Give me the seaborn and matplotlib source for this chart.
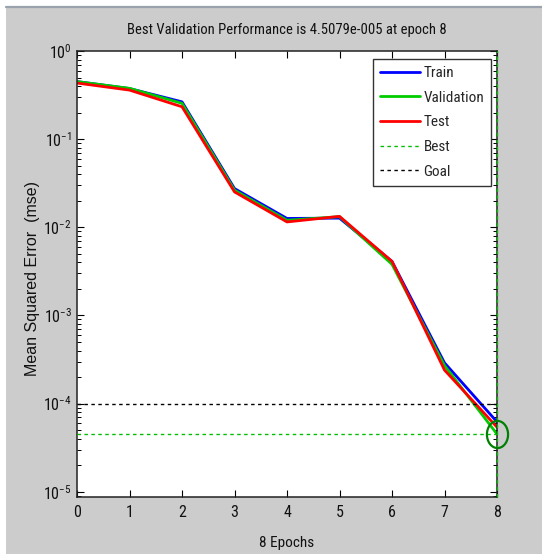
import numpy as np
import pandas as pd
import matplotlib
matplotlib.use("Agg")
import matplotlib.pyplot as plt
import seaborn as sns
from matplotlib.patches import Rectangle
from matplotlib.lines import Line2D
from matplotlib.path import Path
from matplotlib.ticker import LogLocator, NullFormatter, FixedLocator
from matplotlib import font_manager

# Training record (mean squared error per epoch)
epochs = [0, 1, 2, 3, 4, 5, 6, 7, 8]
train_mse = [0.45, 0.375, 0.265, 0.0275, 0.0126, 0.0127, 0.0041, 2.9e-4, 6.2e-5]
val_mse = [0.45, 0.377, 0.255, 0.0264, 0.0120, 0.0132, 0.0038, 2.7e-4, 4.5079e-5]
test_mse = [0.433, 0.36, 0.233, 0.0252, 0.0115, 0.0133, 0.0041, 2.4e-4, 5.4e-5]
series_names = ["Train", "Validation", "Test"]
best_epoch = 8
best_perf = 4.5079e-5
goal = 1e-4
x_ticks = [0, 1, 2, 3, 4, 5, 6, 7, 8]

sns.set_theme(style="ticks")

# pick a condensed face when one is available
installed = {f.name for f in font_manager.fontManager.ttflist}
condensed = [n for n in ["Liberation Sans Narrow", "DejaVu Sans Condensed",
                         "Roboto Condensed", "Open Sans Condensed"] if n in installed]
narrow = condensed + ["Roboto", "Liberation Sans", "DejaVu Sans"]
plt.rcParams["font.family"] = narrow
plt.rcParams["font.stretch"] = "condensed"
plt.rcParams["mathtext.fontset"] = "custom"
plt.rcParams["mathtext.rm"] = narrow[0]
plt.rcParams["mathtext.it"] = narrow[0]
plt.rcParams["mathtext.bf"] = narrow[0]

W, H = 542, 554
fig = plt.figure(figsize=(W / 100, H / 100), dpi=100, facecolor="white")

# window panel: grey face with a thin darker rule along its top edge
fig.patches.append(Rectangle((6 / W, 0), 1 - 6 / W, 1 - 8 / H, transform=fig.transFigure,
                             facecolor="#cccccc", edgecolor="none", zorder=-10))
fig.add_artist(Line2D([6 / W, 1], [1 - 7 / H, 1 - 7 / H], transform=fig.transFigure,
                      color="#9aa3ad", lw=1.6, zorder=-9))

ax = fig.add_axes([77 / W, 1 - 497 / H, 420 / W, 446 / H])
ax.set_facecolor("white")

df = pd.DataFrame({
    "epoch": epochs * 3,
    "mse": train_mse + val_mse + test_mse,
    "set": [s for s in series_names for _ in epochs],
})
palette = {"Train": (0, 0, 1), "Validation": (0, 0.8, 0), "Test": (1, 0, 0)}
sns.lineplot(data=df, x="epoch", y="mse", hue="set", hue_order=series_names,
             palette=palette, linewidth=2.0, ax=ax, legend=False, estimator=None,
             sort=False)

best_color = (0, 0.75, 0)
ax.axhline(best_perf, color=best_color, lw=1.0, ls=(0, (2.5, 2.5)), zorder=3)
ax.axvline(best_epoch, color=best_color, lw=1.0, ls=(0, (2.5, 2.5)), zorder=5,
           clip_on=False)
ax.axhline(goal, color="black", lw=1.0, ls=(0, (2.5, 2.5)), zorder=3)

# highlight of the best validation point
t = np.linspace(0, 2 * np.pi, 80)
ellipse = Path(np.column_stack([0.78 * np.cos(t), np.sin(t)]))
ax.plot([best_epoch], [best_perf], marker=ellipse, markersize=19.5,
        markerfacecolor="none", markeredgecolor=(0, 0.5, 0), markeredgewidth=1.6,
        clip_on=False, zorder=6)

ax.set_yscale("log")
ax.set_xlim(0, 8)
ax.set_ylim(10 ** -5.06, 1)
ax.xaxis.set_major_locator(FixedLocator(x_ticks))
ax.set_xticklabels([str(v) for v in x_ticks])
ax.yaxis.set_major_locator(LogLocator(base=10, numticks=10))
ax.yaxis.set_minor_locator(LogLocator(base=10, subs=np.arange(2, 10), numticks=20))
ax.yaxis.set_minor_formatter(NullFormatter())

ax.tick_params(axis="both", which="major", direction="in", length=5, width=0.8,
               color="black", labelsize=11.5, top=True, right=True, labelcolor="#111111")
ax.tick_params(axis="x", which="major", pad=6)
ax.tick_params(axis="y", which="major", pad=3.5)
ax.tick_params(axis="y", which="minor", direction="in", length=3, width=0.7,
               color="black", right=True, left=True)
for s in ax.spines.values():
    s.set_color("#222222")
    s.set_linewidth(1.1)

ax.set_xlabel("8 Epochs", fontsize=11, labelpad=11, color="#111111")
ax.set_ylabel("Mean Squared Error  (mse)", fontsize=11.5, color="#111111",
              family=["Liberation Sans", "DejaVu Sans"], stretch="normal")
ax.yaxis.set_label_coords(-0.088, 0.49)
ax.set_title("Best Validation Performance is 4.5079e-005 at epoch 8", fontsize=10.5,
             pad=12, color="#111111")

handles = [
    Line2D([], [], color=(0, 0, 1), lw=2),
    Line2D([], [], color=(0, 0.8, 0), lw=2),
    Line2D([], [], color=(1, 0, 0), lw=2),
    Line2D([], [], color=best_color, lw=1, ls=(0, (2.5, 2.5))),
    Line2D([], [], color="black", lw=1, ls=(0, (2.5, 2.5))),
]
leg = ax.legend(handles, ["Train", "Validation", "Test", "Best", "Goal"],
                loc="upper right", bbox_to_anchor=(491 / W, 1 - 59 / H),
                bbox_transform=fig.transFigure, fontsize=11, frameon=True,
                fancybox=False, framealpha=1, edgecolor="#333333",
                handlelength=2.6, handletextpad=0.25, labelspacing=0.7,
                borderpad=0.45, borderaxespad=0)
leg.get_frame().set_linewidth(1.0)

fig.savefig("out.png", dpi=100, facecolor=fig.get_facecolor())
